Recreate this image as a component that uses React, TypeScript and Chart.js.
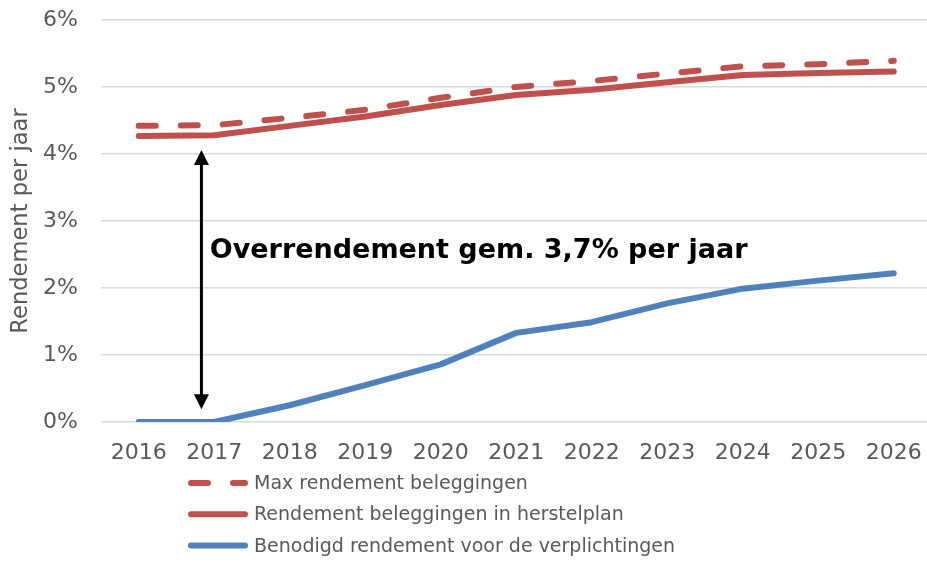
import React, { useEffect, useRef } from "react";
import { Chart, registerables } from "chart.js";

Chart.register(...registerables);

const YEARS = [2016, 2017, 2018, 2019, 2020, 2021, 2022, 2023, 2024, 2025, 2026];
const MAX_RENDEMENT = [4.42, 4.43, 4.54, 4.66, 4.84, 5.0, 5.09, 5.2, 5.31, 5.34, 5.39];
const RENDEMENT_HERSTELPLAN = [4.27, 4.28, 4.42, 4.56, 4.73, 4.88, 4.96, 5.07, 5.18, 5.21, 5.23];
const BENODIGD = [0, 0, 0.25, 0.55, 0.86, 1.33, 1.49, 1.77, 1.99, 2.11, 2.22];
const Y_TICKS = [0, 1, 2, 3, 4, 5, 6];

const LABEL_MAX = "Max rendement beleggingen";
const LABEL_HERSTEL = "Rendement beleggingen in herstelplan";
const LABEL_BENODIGD = "Benodigd rendement voor de verplichtingen";
const Y_TITLE = "Rendement per jaar";
const ANNOTATION = "Overrendement gem. 3,7% per jaar";

// annotation anchor in data space
const ARROW_X = 2016.83;
const ARROW_TOP = 4.06;
const ARROW_BOTTOM = 0.19;
const TEXT_X = 2016.94;
const TEXT_Y = 2.45;

const RED = "#C0504D";
const BLUE = "#4F81BD";
const TEXT = "#595959";
const FONT = "'DejaVu Sans', Verdana, sans-serif";

const overlayPlugin = {
  id: "overlay",
  afterDraw(chart: any) {
    const ctx = chart.ctx;
    const xs = chart.scales.x;
    const ys = chart.scales.y;
    // arrow
    const ax = xs.getPixelForValue(ARROW_X);
    const top = ys.getPixelForValue(ARROW_TOP);
    const bot = ys.getPixelForValue(ARROW_BOTTOM);
    const head = 15;
    ctx.save();
    ctx.strokeStyle = "#000";
    ctx.fillStyle = "#000";
    ctx.lineWidth = 3;
    ctx.beginPath();
    ctx.moveTo(ax, top + head - 2);
    ctx.lineTo(ax, bot - head + 2);
    ctx.stroke();
    ctx.beginPath();
    ctx.moveTo(ax, top);
    ctx.lineTo(ax - head / 2, top + head);
    ctx.lineTo(ax + head / 2, top + head);
    ctx.closePath();
    ctx.fill();
    ctx.beginPath();
    ctx.moveTo(ax, bot);
    ctx.lineTo(ax - head / 2, bot - head);
    ctx.lineTo(ax + head / 2, bot - head);
    ctx.closePath();
    ctx.fill();
    // annotation text
    ctx.font = "bold 27px " + FONT;
    ctx.textAlign = "left";
    ctx.textBaseline = "alphabetic";
    ctx.fillText(ANNOTATION, xs.getPixelForValue(TEXT_X), ys.getPixelForValue(TEXT_Y));
    // legend
    const lx = 188;
    const ly0 = 483;
    const dy = 31.3;
    chart.data.datasets.forEach((ds: any, i: number) => {
      const y = ly0 + i * dy;
      ctx.beginPath();
      ctx.strokeStyle = ds.borderColor;
      ctx.lineWidth = ds.borderWidth;
      ctx.lineCap = "round";
      ctx.setLineDash(ds.borderDash || []);
      ctx.moveTo(lx + 3, y);
      ctx.lineTo(lx + 57, y);
      ctx.stroke();
      ctx.setLineDash([]);
      ctx.fillStyle = TEXT;
      ctx.font = "19px " + FONT;
      ctx.textBaseline = "middle";
      ctx.fillText(ds.label, lx + 66, y + 1);
    });
    ctx.restore();
  },
};

const zeroPad = (s: any) => {
  s.paddingLeft = 0;
  s.paddingRight = 0;
  s.paddingTop = 0;
  s.paddingBottom = 0;
};

export default function App() {
  const ref = useRef<HTMLCanvasElement>(null);
  useEffect(() => {
    if (!ref.current) return;
    const mk = (vals: number[]) => YEARS.map((x, i) => ({ x, y: vals[i] }));
    const common = {
      borderWidth: 6,
      pointRadius: 0,
      pointHoverRadius: 0,
      fill: false,
      tension: 0,
      borderJoinStyle: "round",
      borderCapStyle: "round",
    };
    const chart = new Chart(ref.current, {
      type: "line",
      data: {
        datasets: [
          { ...common, label: LABEL_MAX, data: mk(MAX_RENDEMENT), borderColor: RED, backgroundColor: RED, borderDash: [17, 25] },
          { ...common, label: LABEL_HERSTEL, data: mk(RENDEMENT_HERSTELPLAN), borderColor: RED, backgroundColor: RED },
          { ...common, label: LABEL_BENODIGD, data: mk(BENODIGD), borderColor: BLUE, backgroundColor: BLUE },
        ] as any,
      },
      options: {
        responsive: false,
        animation: false,
        layout: { padding: { top: 20, right: 0, bottom: 0, left: 0 } },
        plugins: { legend: { display: false }, tooltip: { enabled: false } },
        scales: {
          x: {
            type: "linear",
            min: 2015.5,
            max: 2026.44,
            afterBuildTicks: (s: any) => {
              s.ticks = YEARS.map((v) => ({ value: v }));
            },
            afterFit: (s: any) => {
              s.height = 141;
              zeroPad(s);
            },
            grid: { display: false, drawTicks: false },
            border: { display: false },
            ticks: {
              autoSkip: false,
              maxRotation: 0,
              padding: 18,
              color: TEXT,
              font: { family: FONT, size: 22 },
              callback: (v: any) => String(v),
            },
          },
          y: {
            min: 0,
            max: 6,
            afterBuildTicks: (s: any) => {
              s.ticks = Y_TICKS.map((v) => ({ value: v }));
            },
            afterFit: (s: any) => {
              s.width = 101;
              zeroPad(s);
            },
            grid: { color: "#d9d9d9", lineWidth: 1.5, drawTicks: false },
            border: { display: false },
            ticks: {
              padding: 23,
              color: TEXT,
              font: { family: FONT, size: 22 },
              callback: (v: any) => v + "%",
            },
            title: {
              display: true,
              text: Y_TITLE,
              color: TEXT,
              font: { family: FONT, size: 22.6 },
              padding: { top: 8, bottom: 0 },
            },
          },
        },
      } as any,
      plugins: [overlayPlugin],
    });
    return () => chart.destroy();
  }, []);
  return (
    <canvas
      ref={ref}
      width={927}
      height={563}
      style={{ position: "fixed", left: 0, top: 0, width: 927, height: 563 }}
    />
  );
}
